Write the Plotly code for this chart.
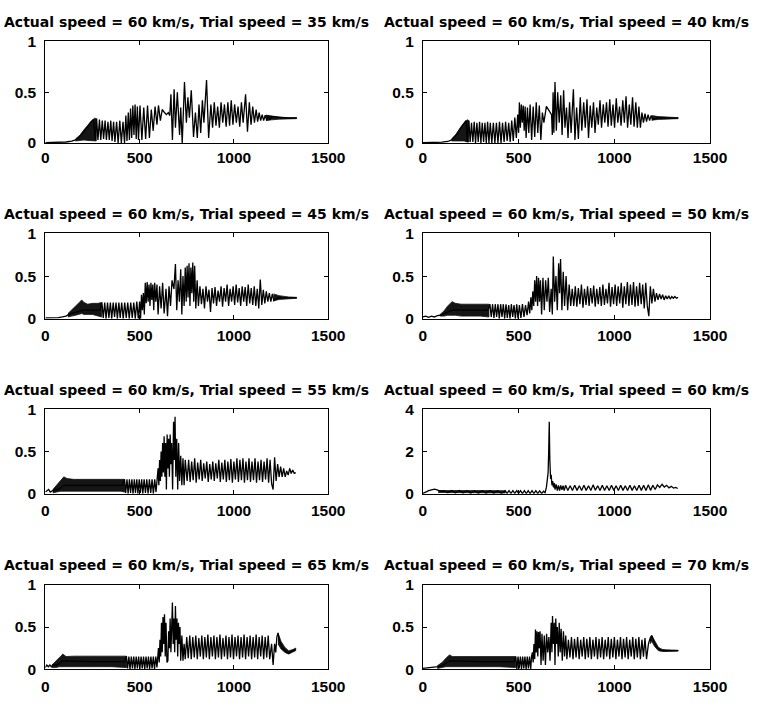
import plotly.graph_objects as go

# ---------------- data (x = sample index, y = value) ----------------
trial_speeds = ["35", "40", "45", "50", "55", "60", "65", "70"]
actual_speed = "60"
x_ticks = [0, 500, 1000, 1500]
y_ticks_small = [0, 0.5, 1]
y_ticks_large = [0, 2, 4]

s35 = [(0,.003),(40,.004),(80,.006),(110,.01),(140,.018),(160,.03),(180,.06),(200,.1),(220,.15),(240,.2),(255,.23),(265,.03),
       (272,.24),(279,.03),(287,.23),(294,.03),(302,.22),(309,.04),(317,.22),(324,.03),(332,.21),(339,.03),(347,.22),(354,.02),
       (362,.21),(369,.01),(378,.21),(386,0),(395,.22),(403,0),(412,.21),(420,0),(427,.27),(433,.02),(440,.3),(446,.03),(452,.34),
       (458,.05),(464,.37),(470,.08),(476,.38),(482,.04),(488,.36),(494,.03),(502,.37),(512,.03),(522,.35),(532,.04),(542,.37),
       (552,.05),(562,.33),(572,.12),(582,.36),(592,.18),(600,.37),(610,.22),(620,.33),(632,.3),(642,.28),(652,.3),(660,.27),
       (666,.48),(674,.03),(683,.53),(690,.15),(700,.5),(712,.08),(718,.35),(726,0),(738,.6),(748,.2),(756,.45),(764,.25),
       (774,.52),(786,.06),(796,.3),(806,.05),(815,.38),(824,.1),(833,.42),(841,.2),(855,.62),(866,.05),(878,.38),(887,.15),
       (896,.4),(905,.17),(914,.36),(923,.15),(932,.4),(941,.2),(950,.38),(959,.16),(968,.4),(977,.17),(986,.42),(995,.18),
       (1004,.38),(1013,.2),(1022,.36),(1031,.16),(1040,.4),(1049,.2),(1062,.48),(1072,.11),(1082,.4),(1091,.18),(1100,.36),
       (1109,.2),(1118,.33),(1126,.21),(1134,.3),(1142,.22),(1150,.28),(1158,.22),(1166,.275),(1174,.225),(1182,.27),(1190,.23),
       (1200,.26),(1240,.25),(1290,.245),(1333,.245)]
band35 = [[(160,.02,.04),(185,.025,.08),(205,.03,.13),(225,.025,.18),(245,.02,.22),(262,.02,.245),(270,.02,.24)],
          [(1170,.22,.275),(1200,.228,.265),(1240,.235,.255),(1290,.24,.25),(1333,.24,.25)]]

s40 = [(0,.003),(50,.004),(100,.008),(130,.015),(150,.03),(170,.07),(190,.12),(210,.18),(225,.22),(232,.01),(240,.22),(247,.01),
       (254,.2),(261,.01),(268,.21),(275,0),(282,.2),(289,.01),(296,.21),(303,0),(310,.2),(317,.01),(324,.2),(331,0),(338,.21),
       (345,0),(352,.2),(360,0),(368,.2),(376,0),(384,.2),(392,0),(400,.21),(408,0),(416,.2),(424,.01),(432,.21),(440,.02),
       (448,.2),(456,.01),(464,.22),(472,.02),(480,.25),(488,.05),(495,.28),(500,.1),(504,.4),(509,.15),(514,.38),(519,.2),
       (524,.37),(529,.12),(534,.36),(539,.05),(546,.35),(553,.1),(560,.38),(568,.03),(576,.36),(584,.06),(592,.4),(600,.1),
       (608,.37),(616,.03),(624,.3),(632,.2),(645,.36),(655,.33),(665,.3),(672,.28),(676,.08),(680,.5),(684,.1),(690,.6),
       (697,.12),(704,.5),(712,.2),(720,.47),(727,.08),(735,.52),(742,.15),(750,.35),(758,.05),(766,.4),(774,.1),(786,.53),
       (794,.03),(803,.35),(812,.04),(822,.45),(830,.12),(840,.4),(848,.15),(857,.43),(865,.05),(874,.37),(882,.15),(891,.4),
       (899,.1),(908,.35),(916,.18),(925,.42),(933,.15),(942,.38),(950,.2),(959,.4),(967,.16),(976,.43),(984,.17),(993,.38),
       (1001,.15),(1010,.44),(1018,.2),(1027,.36),(1035,.17),(1044,.42),(1052,.2),(1061,.46),(1069,.15),(1078,.38),(1086,.18),
       (1095,.45),(1103,.16),(1112,.4),(1120,.15),(1128,.36),(1136,.15),(1144,.3),(1152,.2),(1160,.29),(1168,.21),(1176,.28),
       (1184,.22),(1192,.27),(1200,.23),(1230,.25),(1280,.245),(1333,.245)]
band40 = [[(150,.02,.04),(175,.02,.09),(195,.02,.15),(215,.02,.2),(232,.01,.23),(240,.01,.22)],
          [(1195,.225,.27),(1230,.232,.26),(1280,.238,.255),(1333,.24,.25)]]

s45 = [(0,.01),(40,.01),(70,.012),(90,.02),(110,.03),(124,.05),(200,.1),(290,.1),
       (300,.19),(307,.01),(315,.19),(322,0),(330,.19),(337,.01),(345,.19),(352,0),
       (360,.19),(367,.02),(375,.19),(382,0),(390,.19),(397,.01),(405,.19),(413,0),(421,.19),(429,.01),(437,.19),(445,0),
       (453,.19),(461,.01),(469,.19),(477,0),(485,.2),(493,0),(500,.2),(505,0),(510,.28),(515,.1),(520,.3),(525,.05),(530,.42),
       (535,.18),(540,.43),(545,.2),(550,.4),(555,.15),(560,.42),(565,.22),(570,.4),(575,.1),(580,.42),(586,.2),(592,.4),
       (598,.05),(606,.38),(614,.12),(622,.42),(630,.06),(640,.35),(648,.03),(656,.38),(664,.15),(672,.45),(682,.35),(690,.64),
       (697,.1),(704,.45),(711,.2),(718,.58),(724,.05),(730,.5),(736,.15),(742,.6),(747,.2),(752,.62),(757,.25),(762,.65),
       (767,.15),(772,.6),(777,.3),(782,.66),(787,.2),(792,.62),(798,.12),(805,.45),(812,.15),(820,.38),(828,.17),(836,.35),
       (844,.12),(852,.38),(860,.2),(868,.34),(876,.08),(884,.36),(892,.18),(900,.37),(908,.15),(916,.33),(924,.2),(932,.38),
       (940,.14),(948,.36),(956,.2),(964,.4),(972,.15),(980,.35),(988,.2),(996,.38),(1004,.16),(1012,.4),(1020,.19),(1028,.36),
       (1036,.15),(1044,.38),(1052,.2),(1060,.37),(1068,.15),(1076,.4),(1084,.18),(1092,.36),(1100,.16),(1108,.38),(1116,.15),
       (1124,.35),(1132,.12),(1140,.46),(1148,.16),(1156,.34),(1164,.18),(1172,.32),(1180,.2),(1188,.3),(1196,.2),(1204,.29),
       (1212,.21),(1240,.25),(1290,.245),(1333,.245)]
band45 = [[(120,.02,.06),(140,.03,.1),(160,.04,.15),(180,.05,.19),(193,.06,.22),(205,.05,.19),(225,.05,.17),(250,.05,.18),
           (280,.03,.18),(298,.02,.19)],
          [(1210,.21,.29),(1240,.225,.27),(1290,.235,.255),(1333,.24,.25)]]

s50 = [(0,.02),(15,.03),(30,.015),(45,.03),(60,.02),(75,.035),(90,.04),(110,.06),(152,.1),(250,.1),(340,.1),
       (350,.17),(357,.02),(364,.17),(371,.01),(378,.17),(385,.02),(392,.17),(399,0),
       (406,.17),(413,.02),(420,.17),(427,0),(434,.17),(441,.01),(448,.16),(455,0),(462,.17),(469,.02),(476,.16),(483,0),
       (490,.17),(497,0),(504,.16),(512,.01),(520,.17),(528,.02),(536,.16),(544,.04),(552,.2),(558,.06),(564,.25),(569,.1),
       (574,.32),(579,.15),(584,.45),(589,.2),(594,.5),(599,.15),(604,.48),(609,.2),(614,.45),(620,.05),(627,.48),(634,.1),
       (641,.45),(648,.2),(655,.48),(662,.08),(670,.35),(676,.05),(681,.73),(688,.2),(695,.5),(702,.1),(709,.65),(714,.3),
       (719,.7),(726,.1),(733,.55),(740,.15),(748,.5),(756,.1),(764,.4),(772,.15),(780,.35),(788,.15),(796,.38),(804,.14),
       (812,.36),(820,.17),(828,.4),(836,.13),(844,.35),(852,.16),(860,.38),(868,.15),(876,.36),(884,.18),(892,.39),(900,.14),
       (908,.35),(916,.17),(924,.37),(932,.15),(940,.4),(948,.16),(956,.35),(964,.18),(972,.42),(980,.14),(988,.37),(996,.17),
       (1004,.4),(1012,.15),(1020,.38),(1028,.18),(1036,.42),(1044,.13),(1052,.38),(1060,.17),(1068,.43),(1076,.15),(1084,.4),
       (1092,.16),(1100,.43),(1108,.14),(1116,.38),(1124,.15),(1132,.42),(1140,.17),(1148,.4),(1156,.12),(1164,.42),(1172,.15),
       (1180,.03),(1188,.38),(1196,.18),(1204,.35),(1212,.2),(1220,.3),(1228,.22),(1236,.29),(1244,.23),(1252,.28),(1260,.22),
       (1268,.27),(1276,.23),(1284,.27),(1292,.23),(1300,.26),(1308,.24),(1316,.26),(1324,.24),(1333,.25)]
band50 = [[(90,.03,.05),(110,.03,.09),(130,.04,.15),(152,.04,.2),(170,.04,.18),(200,.03,.17),(250,.03,.17),(300,.03,.17),
           (345,.02,.17)]]

s55 = [(0,.02),(10,.04),(18,.05),(26,.02),(36,.03),(50,.05),(70,.05),(98,.1),(250,.1),(410,.1),
       (420,.17),(426,.01),(433,.17),(439,0),(446,.17),(452,.01),(459,.17),(465,0),(472,.17),(478,.01),
       (485,.17),(491,0),(498,.17),(504,.01),(511,.17),(517,0),(524,.17),(531,.01),(538,.17),(545,0),(552,.17),(559,.01),
       (566,.17),(573,0),(580,.17),(587,.02),(594,.2),(598,.3),(602,.1),(606,.4),(610,.15),(614,.5),(618,.2),(622,.6),(626,.25),
       (630,.68),(634,.2),(638,.6),(642,.05),(646,.7),(650,.3),(654,.65),(658,.2),(662,.7),(666,.35),(670,.6),(675,.05),
       (680,.85),(684,.4),(688,.91),(692,.2),(697,.65),(702,.05),(707,.6),(712,.15),(718,.45),(724,.1),(730,.42),(736,.1),
       (742,.4),(752,.15),(760,.4),(768,.14),(776,.38),(784,.16),(792,.42),(800,.13),(808,.37),(816,.17),(824,.4),(832,.15),
       (840,.36),(848,.18),(856,.38),(864,.14),(872,.35),(880,.17),(888,.38),(896,.15),(904,.36),(912,.18),(920,.4),(928,.14),
       (936,.37),(944,.17),(952,.4),(960,.14),(968,.38),(976,.16),(984,.41),(992,.13),(1000,.38),(1008,.17),(1016,.42),
       (1024,.14),(1032,.4),(1040,.16),(1048,.42),(1056,.13),(1064,.38),(1072,.16),(1080,.42),(1088,.14),(1096,.38),(1104,.16),
       (1112,.42),(1120,.13),(1128,.38),(1136,.16),(1144,.4),(1152,.14),(1160,.38),(1168,.17),(1176,.42),(1184,.13),(1192,.4),
       (1200,.12),(1208,.05),(1216,.43),(1224,.15),(1232,.35),(1240,.2),(1248,.32),(1256,.2),(1264,.3),(1272,.2),(1280,.27),
       (1288,.22),(1296,.3),(1304,.24),(1312,.28),(1320,.24),(1328,.25)]
band55 = [[(40,.01,.05),(60,.02,.1),(80,.03,.15),(98,.03,.2),(115,.03,.18),(150,.03,.17),(200,.03,.17),(300,.03,.17),
           (400,.03,.17),(420,.02,.17)]]

s60 = [(0,.02),(10,.05),(20,.1),(30,.15),(45,.2),(60,.22),(75,.18),(90,.12),(110,.15),(130,.05),(150,.15),(170,.04),(190,.15),
       (210,.04),(230,.14),(250,.03),(270,.14),(290,.03),(310,.14),(330,.03),(350,.14),(370,.03),(390,.14),(410,.02),(430,.15),
       (440,.02),(450,.15),(460,.02),(470,.15),(480,.02),(490,.15),(500,.02),(510,.15),(520,.01),(530,.15),(540,.01),(550,.15),
       (560,.01),(570,.15),(580,.01),(590,.15),(600,.01),(610,.14),(620,.01),(630,.12),(638,.05),(645,.3),(650,.6),(654,1.0),
       (657,2.0),(660,3.4),(663,1.6),(667,.7),(670,.9),(674,.4),(678,.6),(682,.3),(686,.5),(690,.2),(696,.45),(702,.15),
       (708,.4),(714,.15),(720,.4),(726,.18),(732,.38),(738,.15),(745,.4),(757,.15),(769,.38),(781,.15),(793,.4),(805,.16),
       (817,.38),(829,.15),(841,.4),(853,.16),(865,.38),(877,.15),(889,.42),(901,.17),(913,.38),(925,.15),(937,.4),(949,.16),
       (961,.38),(973,.15),(985,.4),(997,.16),(1009,.38),(1021,.15),(1033,.4),(1045,.16),(1057,.38),(1069,.15),(1081,.4),
       (1093,.16),(1105,.38),(1117,.15),(1129,.4),(1141,.16),(1153,.4),(1165,.15),(1177,.42),(1189,.16),(1201,.4),(1213,.2),
       (1225,.42),(1237,.3),(1249,.45),(1261,.32),(1273,.4),(1285,.28),(1297,.35),(1309,.27),(1321,.3),(1331,.25)]
band60 = [[(80,.06,.15),(150,.05,.16),(250,.04,.15),(350,.04,.15),(430,.03,.14)]]

s65 = [(0,.02),(8,.05),(16,.03),(24,.05),(32,.03),(40,.05),(60,.05),(93,.1),(250,.09),(420,.09),
       (430,.155),(436,.01),(443,.15),(449,0),(456,.15),(462,.01),(469,.15),(475,0),(482,.15),(488,.01),
       (495,.15),(501,0),(508,.15),(514,.01),(521,.15),(527,0),(534,.15),(540,.01),(547,.15),(553,0),(560,.15),(566,.01),
       (573,.15),(579,0),(586,.15),(592,.02),(600,.25),(604,.08),(608,.35),(612,.15),(616,.55),(620,.2),(624,.62),(628,.3),
       (632,.65),(636,.15),(640,.55),(645,.08),(650,.1),(654,.45),(658,.25),(662,.6),(666,.2),(670,.7),(674,.79),(678,.3),
       (682,.6),(686,.2),(690,.75),(694,.35),(698,.6),(702,.15),(706,.55),(710,.3),(714,.5),(718,.1),(724,.4),(730,.1),(736,.3),
       (742,.12),(750,.38),(758,.13),(766,.4),(774,.12),(782,.38),(790,.14),(798,.4),(806,.12),(814,.37),(822,.15),(830,.4),
       (838,.12),(846,.38),(854,.14),(862,.41),(870,.12),(878,.38),(886,.15),(894,.4),(902,.12),(910,.38),(918,.14),(926,.41),
       (934,.12),(942,.37),(950,.15),(958,.4),(966,.12),(974,.38),(982,.14),(990,.41),(998,.12),(1006,.38),(1014,.15),(1022,.4),
       (1030,.12),(1038,.38),(1046,.14),(1054,.41),(1062,.12),(1070,.38),(1078,.15),(1086,.4),(1094,.12),(1102,.38),(1110,.14),
       (1118,.41),(1126,.12),(1134,.38),(1142,.15),(1150,.4),(1158,.12),(1166,.38),(1174,.14),(1182,.4),(1190,.12),(1200,.3),
       (1208,.05),(1216,.3),(1222,.2),(1228,.38),(1234,.43),(1240,.35),(1248,.3),(1256,.25),(1264,.24),(1272,.22),(1280,.2),
       (1290,.19),(1300,.2),(1310,.22),(1320,.23),(1328,.24)]
band65 = [[(35,.02,.05),(55,.02,.09),(75,.03,.14),(93,.03,.18),(110,.03,.15),(150,.03,.155),(250,.03,.155),(350,.03,.155),
           (430,.02,.155)],
          [(1234,.3,.43),(1250,.24,.33),(1270,.2,.26),(1290,.18,.22),(1310,.2,.23),(1328,.22,.25)]]

s70 = [(0,.01),(30,.015),(60,.02),(80,.03),(100,.04),(139,.1),(300,.09),(478,.09),
       (485,.15),(491,0),(497,.15),(503,.01),(509,.15),(515,0),(521,.15),(527,.01),(533,.15),(539,0),(545,.15),(551,.01),
       (557,.15),(563,0),(568,.16),(572,.2),(576,.08),(580,.3),(584,.12),(588,.47),(592,.2),(596,.45),(600,.15),(604,.44),
       (608,.25),(612,.45),(617,.05),(622,.42),(628,.1),(634,.4),(640,.05),(646,.42),(652,.2),(658,.38),(664,.1),(670,.55),
       (674,.2),(677,.63),(682,.3),(686,.55),(690,.05),(694,.6),(698,.3),(702,.5),(707,.15),(712,.55),(717,.2),(722,.48),
       (728,.1),(734,.45),(740,.15),(746,.4),(752,.12),(760,.35),(768,.14),(776,.38),(784,.12),(792,.36),(800,.14),(808,.38),
       (816,.12),(824,.35),(832,.15),(840,.38),(848,.12),(856,.36),(864,.14),(872,.38),(880,.12),(888,.35),(896,.15),(904,.38),
       (912,.12),(920,.36),(928,.14),(936,.38),(944,.12),(952,.35),(960,.15),(968,.38),(976,.12),(984,.36),(992,.14),(1000,.38),
       (1008,.12),(1016,.35),(1024,.15),(1032,.38),(1040,.12),(1048,.36),(1056,.14),(1064,.38),(1072,.12),(1080,.35),(1088,.15),
       (1096,.38),(1104,.12),(1112,.36),(1120,.14),(1128,.38),(1136,.12),(1144,.35),(1152,.15),(1160,.37),(1168,.12),(1178,.3),
       (1186,.36),(1195,.4),(1204,.35),(1212,.3),(1225,.25),(1240,.23),(1260,.22),(1290,.22),(1333,.22)]
band70 = [[(75,.01,.04),(100,.02,.08),(120,.03,.13),(139,.03,.17),(155,.03,.15),(200,.03,.15),(300,.03,.15),(400,.03,.15),
           (485,.02,.15)],
          [(1186,.3,.37),(1195,.33,.4),(1210,.27,.34),(1230,.22,.26),(1250,.21,.235),(1270,.21,.23),(1333,.215,.225)]]

series = [s35, s40, s45, s50, s55, s60, s65, s70]
bands = [band35, band40, band45, band50, band55, band60, band65, band70]

# ---------------- layout geometry (pixels of a 766 x 707 page) ----------------
W, H = 766, 707
col_px = [(42.5, 333.3), (430.7, 726.0)]
row_px = [(33.3, 137.3), (230.0, 317.3), (410.0, 496.7), (590.0, 676.5)]
title_px = [13.5, 210, 390, 570]
xlabel_standoff = [0, 3, 3, 3]

TICK_FONT = "Liberation Sans, Arial, Helvetica, sans-serif"
TITLE_FONT = "DejaVu Sans, Verdana, sans-serif"
fig = go.Figure()
layout = dict(width=W, height=H, margin=dict(l=0, r=0, t=0, b=0), showlegend=False,
              plot_bgcolor="white", paper_bgcolor="white", annotations=[])

for i in range(8):
    r, c = divmod(i, 2)
    n = i + 1
    xa = "x" if n == 1 else f"x{n}"
    ya = "y" if n == 1 else f"y{n}"
    # dense, unresolved oscillation shown as its envelope
    px, py = [], []
    for seg in bands[i]:
        px += [p[0] for p in seg] + [p[0] for p in reversed(seg)] + [None]
        py += [p[2] for p in seg] + [p[1] for p in reversed(seg)] + [None]
    fig.add_trace(go.Scatter(x=px, y=py, mode="lines", fill="toself", fillcolor="#151515",
                             line=dict(color="#151515", width=0.8), xaxis=xa, yaxis=ya, hoverinfo="skip"))
    fig.add_trace(go.Scatter(x=[p[0] for p in series[i]], y=[p[1] for p in series[i]], mode="lines",
                             line=dict(color="black", width=1.3), xaxis=xa, yaxis=ya))
    x0, x1 = col_px[c]
    t0, b0 = row_px[r]
    big = trial_speeds[i] == actual_speed
    axis_common = dict(showline=True, linecolor="black", linewidth=1, mirror="ticks", ticks="inside",
                       ticklen=4, tickcolor="black", tickwidth=1, showgrid=False, zeroline=False,
                       tickfont=dict(family=TICK_FONT, size=15.5, color="black", weight="bold"))
    layout["xaxis" if n == 1 else f"xaxis{n}"] = dict(
        domain=[x0 / W, x1 / W], anchor=ya, range=[0, 1500], tickvals=x_ticks,
        ticktext=[str(v) for v in x_ticks], ticklabelstandoff=xlabel_standoff[r], **axis_common)
    yt = y_ticks_large if big else y_ticks_small
    layout["yaxis" if n == 1 else f"yaxis{n}"] = dict(
        domain=[1 - b0 / H, 1 - t0 / H], anchor=xa, range=[0, yt[-1]], tickvals=yt,
        ticktext=[("%g" % v) for v in yt], ticklabelstandoff=5, **axis_common)
    layout["annotations"].append(dict(
        text=f"<b>Actual speed = {actual_speed} km/s, Trial speed = {trial_speeds[i]} km/s</b>",
        xref="paper", yref="paper", x=(x0 + x1) / 2 / W, y=1 - title_px[r] / H,
        xanchor="center", yanchor="middle", showarrow=False,
        font=dict(family=TITLE_FONT, size=14, color="black")))

fig.update_layout(**layout)
fig.write_html("out.html")
